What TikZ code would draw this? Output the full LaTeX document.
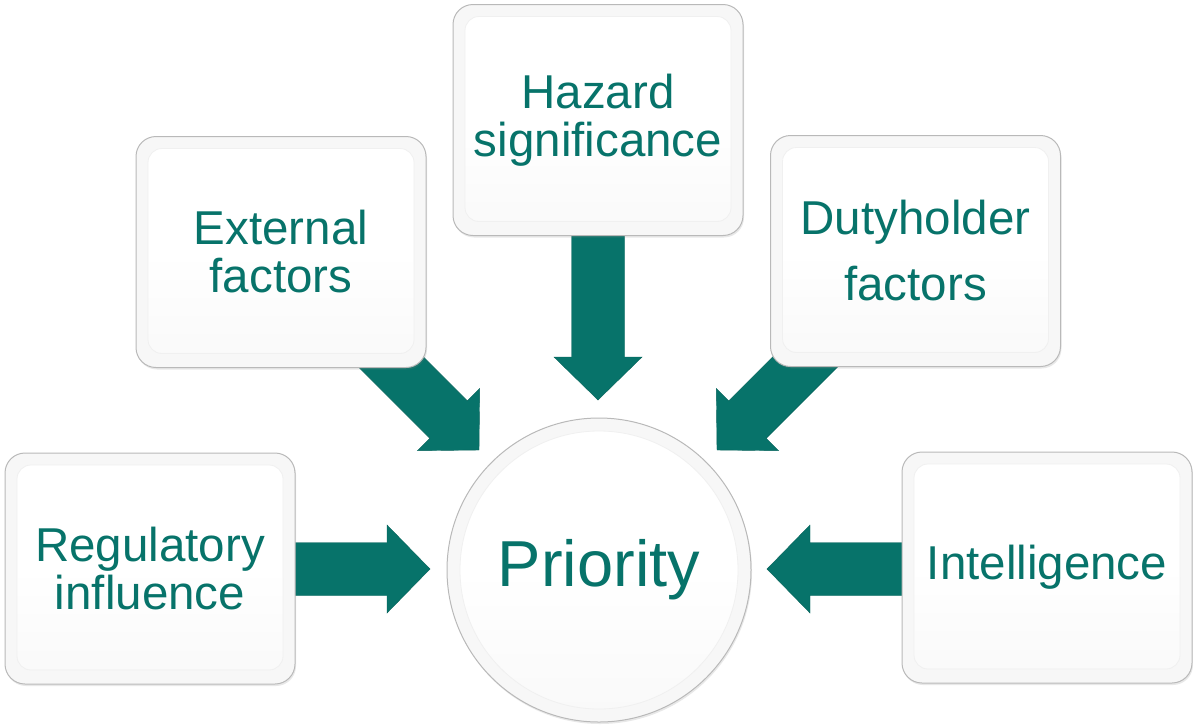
\documentclass[tikz,border=0pt]{standalone}
\usepackage{fontspec}
\setmainfont{Liberation Sans}
\usetikzlibrary{shadows}
\definecolor{tealc}{HTML}{07736A}
\tikzset{
  boxst/.style={rounded corners=20pt, minimum width=290pt, minimum height=231pt,
    inner sep=0pt, fill=gray!6, draw=gray!55, line width=1pt, text=tealc,
    align=center, font=\fontsize{47.5}{48}\selectfont,
    drop shadow={opacity=0.18, shadow xshift=1pt, shadow yshift=-2pt},
    path picture={\shade[top color=white, bottom color=gray!5, middle color=white, rounded corners=14pt, draw=gray!12, line width=0.8pt]
      ([shift={(12pt,-12pt)}]path picture bounding box.north west) rectangle
      ([shift={(-12pt,14pt)}]path picture bounding box.south east);}},
  circst/.style={circle, minimum size=304pt, inner sep=0pt, fill=gray!6, draw=gray!55,
    line width=1pt, text=tealc, font=\fontsize{65}{65}\selectfont,
    drop shadow={opacity=0.18, shadow xshift=1pt, shadow yshift=-2pt},
    path picture={\shade[top color=white, bottom color=gray!5, middle color=white, draw=gray!12, line width=0.8pt]
      (path picture bounding box.center) circle (139pt);}},
  arrowc/.style={fill=tealc, draw=tealc!85!black, line width=0.4pt}
}
\newcommand\blockarrow[3]{%
  \path[arrowc, shift={(#1)}, rotate=#2] (0,0) -- (-43,44) -- (-43,26.5) -- (-#3,26.5)
    -- (-#3,-26.5) -- (-43,-26.5) -- (-43,-44) -- cycle;}
\begin{document}
\begin{tikzpicture}[x=1pt,y=1pt]
\useasboundingbox (0,0) rectangle (1193,-724);
% arrow tips
\coordinate (tipReg) at (430,-569);
\coordinate (tipInt) at (767,-569);
\coordinate (tipHaz) at (598,-400);
\coordinate (tipExt) at (479,-450);
\coordinate (tipDut) at (717,-450);
\blockarrow{tipReg}{0}{150}
\blockarrow{tipInt}{180}{150}
\blockarrow{tipHaz}{-90}{180}
\blockarrow{tipExt}{-45}{200}
\blockarrow{tipDut}{-135}{200}
% boxes
\node[boxst] (reg) at (150,-568.5) {Regulatory\\influence};
\node[boxst] (ext) at (281,-252) {External\\factors};
\node[boxst] (haz) at (598,-120) {Hazard\\significance};
\node[boxst] (dut) at (915.5,-251) {Dutyholder\\[18pt]factors};
\node[boxst] (int) at (1047,-567.5) {Intelligence};
\node[circst] (pri) at (599,-570) {Priority};
\end{tikzpicture}
\end{document}
